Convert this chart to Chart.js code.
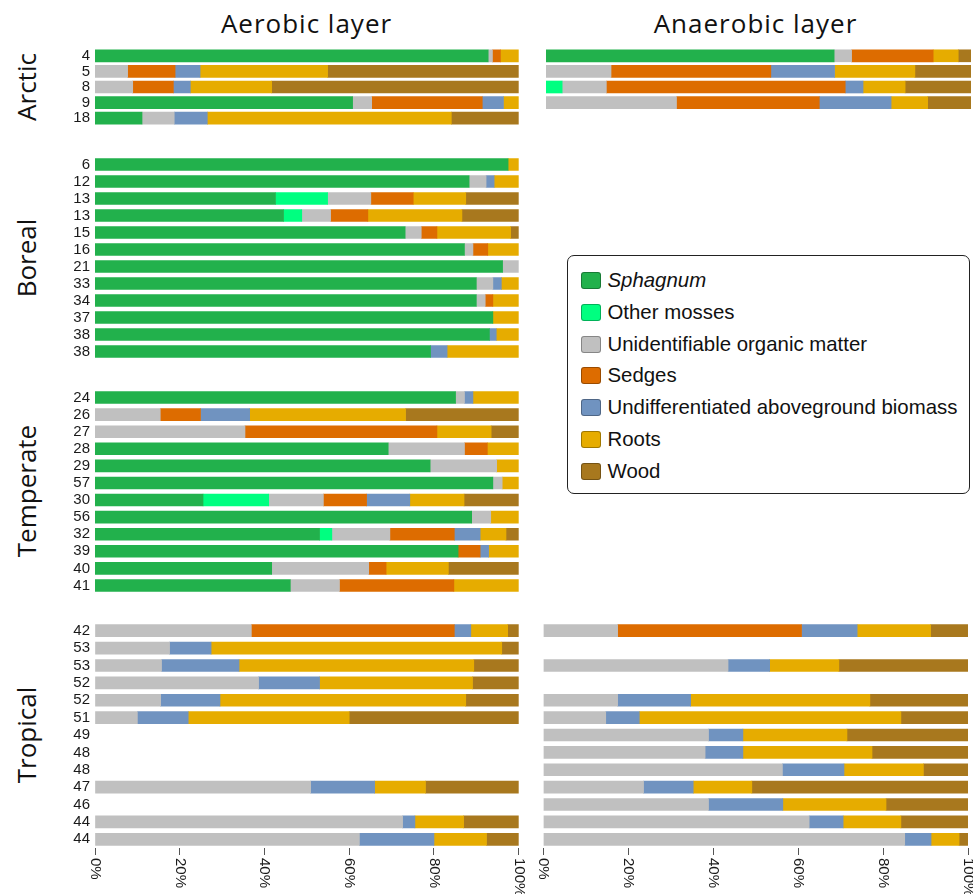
<!DOCTYPE html>
<html>
<head>
<meta charset="utf-8">
<script src="https://cdn.jsdelivr.net/npm/chart.js@4.4.0/dist/chart.umd.min.js"></script>
<style>
  html, body { margin: 0; padding: 0; background: #fff; overflow: hidden; width: 973px; height: 894px; }
  #stage { position: relative; width: 973px; height: 894px; }
  .panel { position: absolute; }
  .title { position: absolute; top: 10px; font-family: 'Open Sans', sans-serif; font-size: 26px; line-height: 26px;
           letter-spacing: 1px; color: #111; white-space: nowrap; transform: translateX(-50%); }
  .group { position: absolute; font-family: 'Open Sans', sans-serif; font-size: 26px; line-height: 26px; color: #111;
           white-space: nowrap; transform: translate(-50%, -50%) rotate(-90deg); }
  #legend { position: absolute; left: 567px; top: 255px; width: 403px; height: 239px; box-sizing: border-box;
            border: 1.5px solid #222; border-radius: 7px; padding-top: 8.3px; background: #fff; }
  .item { display: flex; align-items: center; height: 31.9px; font-family: 'Liberation Sans', Arial, sans-serif;
          font-size: 20.4px; color: #111; white-space: nowrap; }
  .swatch { width: 20px; height: 17px; box-sizing: border-box; border: 1px solid rgba(0,0,0,0.3);
            border-radius: 3px; margin-left: 12.5px; margin-right: 7px; }
</style>
</head>
<body>
<div id="stage">
  <div class="title" style="left:306.5px">Aerobic layer</div>
  <div class="title" style="left:755.5px">Anaerobic layer</div>
  <div class="group" style="left:25.5px; top:87px">Arctic</div>
  <div class="group" style="left:25.5px; top:257.7px">Boreal</div>
  <div class="group" style="left:25.5px; top:491.4px">Temperate</div>
  <div class="group" style="left:25.5px; top:735px">Tropical</div>
  <div id="legend"></div>
</div>
<script>
// components, in stacking order
const components = ['Sphagnum', 'Other mosses', 'Unidentifiable organic matter', 'Sedges',
                    'Undifferentiated aboveground biomass', 'Roots', 'Wood'];
const colours = ['#22b14c', '#00ff80', '#c0c0c0', '#dd6c00', '#7093c0', '#e6ac00', '#a8781e'];
const xTicks = ['0%', '20%', '40%', '60%', '80%', '100%'];

// site labels per climate zone
const arcticSites = ['4', '5', '8', '9', '18'];
const borealSites = ['6', '12', '13', '13', '15', '16', '21', '33', '34', '37', '38', '38'];
const temperateSites = ['24', '26', '27', '28', '29', '57', '30', '56', '32', '39', '40', '41'];
const tropicalSites = ['42', '53', '53', '52', '52', '51', '49', '48', '48', '47', '46', '44', '44'];

// % composition per site: [sphagnum, other mosses, unidentifiable, sedges, undiff. biomass, roots, wood]
const arcticAerobic = [
  [92.8, 0, 1.0, 1.9, 0, 4.3, 0],
  [0, 0, 7.7, 11.2, 5.9, 30.1, 45.1],
  [0, 0, 8.9, 9.6, 4.0, 19.2, 58.3],
  [60.8, 0, 4.5, 26.1, 5.0, 3.6, 0],
  [11.1, 0, 7.6, 0, 7.8, 57.6, 15.9]
];
const arcticAnaerobic = [
  [67.8, 0, 4.1, 19.2, 0, 5.9, 3.0],
  [0, 0, 15.3, 37.6, 15.0, 18.9, 13.2],
  [0, 3.8, 10.4, 56.2, 4.2, 9.9, 15.5],
  [0, 0, 30.7, 33.6, 16.9, 8.6, 10.2],
  null
];
const borealAerobic = [
  [97.5, 0, 0, 0, 0, 2.5, 0],
  [88.3, 0, 4.0, 0, 1.9, 5.8, 0],
  [42.6, 12.3, 10.2, 10.0, 0, 12.4, 12.5],
  [44.5, 4.3, 6.8, 8.8, 0, 22.2, 13.4],
  [73.2, 0, 3.8, 3.7, 0, 17.4, 1.9],
  [87.2, 0, 2.0, 3.5, 0, 7.3, 0],
  [96.2, 0, 3.8, 0, 0, 0, 0],
  [90.0, 0, 3.9, 0, 2.0, 4.1, 0],
  [90.0, 0, 2.1, 1.8, 0, 6.1, 0],
  [93.9, 0, 0, 0, 0, 6.1, 0],
  [93.1, 0, 0, 0, 1.6, 5.3, 0],
  [79.2, 0, 0, 0, 3.9, 16.9, 0]
];
const temperateAerobic = [
  [85.1, 0, 2.1, 0, 2.0, 10.8, 0],
  [0, 0, 15.4, 9.5, 11.6, 36.8, 26.7],
  [0, 0, 35.4, 45.3, 0, 12.8, 6.5],
  [69.2, 0, 18.0, 5.4, 0, 7.4, 0],
  [79.1, 0, 15.7, 0, 0, 5.2, 0],
  [93.9, 0, 2.2, 0, 0, 3.9, 0],
  [25.5, 15.5, 12.9, 10.2, 10.2, 12.8, 12.9],
  [88.9, 0, 4.5, 0, 0, 6.6, 0],
  [53.0, 2.9, 13.7, 15.2, 6.1, 6.1, 3.0],
  [85.7, 0, 0, 5.2, 2.0, 7.1, 0],
  [41.7, 0, 22.9, 4.1, 0, 14.7, 16.6],
  [46.1, 0, 11.6, 27.0, 0, 15.3, 0]
];
const tropicalAerobic = [
  [0, 0, 36.9, 47.9, 3.9, 8.7, 2.6],
  [0, 0, 17.6, 0, 9.8, 68.6, 4.0],
  [0, 0, 15.7, 0, 18.3, 55.4, 10.6],
  [0, 0, 38.6, 0, 14.4, 36.1, 10.9],
  [0, 0, 15.5, 0, 14.0, 58.0, 12.5],
  [0, 0, 10.0, 0, 12.0, 38.0, 40.0],
  null,
  null,
  null,
  [0, 0, 50.9, 0, 15.1, 12.0, 22.0],
  null,
  [0, 0, 72.6, 0, 2.9, 11.5, 13.0],
  [0, 0, 62.4, 0, 17.6, 12.4, 7.6]
];
const tropicalAnaerobic = [
  [0, 0, 17.5, 43.3, 13.1, 17.3, 8.8],
  null,
  [0, 0, 43.5, 0, 9.8, 16.3, 30.4],
  null,
  [0, 0, 17.5, 0, 17.2, 42.2, 23.1],
  [0, 0, 14.7, 0, 7.9, 61.6, 15.8],
  [0, 0, 38.9, 0, 8.1, 24.5, 28.5],
  [0, 0, 38.1, 0, 8.9, 30.4, 22.6],
  [0, 0, 56.3, 0, 14.5, 18.7, 10.5],
  [0, 0, 23.6, 0, 11.7, 13.8, 50.9],
  [0, 0, 38.9, 0, 17.5, 24.3, 19.3],
  [0, 0, 62.6, 0, 8.0, 13.6, 15.8],
  [0, 0, 85.1, 0, 6.2, 6.6, 2.1]
];

// where each small chart sits on the page
const panels = [
  { sites: arcticSites, rows: arcticAerobic, left: 0, top: 48, width: 530, height: 78, padLeft: 0, padRight: 11.3, labels: true, axis: false },
  { sites: borealSites, rows: borealAerobic, left: 0, top: 156, width: 530, height: 204, padLeft: 0, padRight: 11.3, labels: true, axis: false },
  { sites: temperateSites, rows: temperateAerobic, left: 0, top: 389, width: 530, height: 205, padLeft: 0, padRight: 11.3, labels: true, axis: false },
  { sites: tropicalSites, rows: tropicalAerobic, left: 0, top: 622, width: 530, height: 226, padLeft: 0, padRight: 11.3, labels: true, axis: true },
  { sites: arcticSites, rows: arcticAnaerobic, left: 536, top: 48, width: 440, height: 78, padLeft: 10, padRight: 5, labels: false, axis: false },
  { sites: tropicalSites, rows: tropicalAnaerobic, left: 533, top: 622, width: 443, height: 226, padLeft: 10.3, padRight: 8, labels: false, axis: true }
];
const AXIS_H = 50;

// x tick labels read top to bottom, which Chart.js does not do by itself
const percentLabels = {
  id: 'percentLabels',
  afterDraw(chart) {
    const ctx = chart.ctx;
    const x = chart.scales.x;
    ctx.save();
    ctx.font = '15px "Liberation Sans", Arial, sans-serif';
    ctx.fillStyle = '#1a1a1a';
    ctx.textAlign = 'left';
    ctx.textBaseline = 'middle';
    x.ticks.forEach((t, i) => {
      ctx.save();
      ctx.translate(x.getPixelForValue(t.value), chart.chartArea.bottom + 10);
      ctx.rotate(Math.PI / 2);
      ctx.fillText(xTicks[i], 0, 0);
      ctx.restore();
    });
    ctx.restore();
  }
};

const stage = document.getElementById('stage');

function makeChart(p) {
  const box = document.createElement('div');
  box.className = 'panel';
  box.style.left = p.left + 'px';
  box.style.top = p.top + 'px';
  const canvas = document.createElement('canvas');
  const axisH = p.axis ? AXIS_H : 0;
  const yWidth = p.labels ? 95 : 0;
  canvas.width = p.width;
  canvas.height = p.height + axisH;
  box.appendChild(canvas);
  stage.appendChild(box);

  // zero shares are left out so no hairline shows
  const datasets = components.map((name, k) => ({
    label: name,
    data: p.rows.map(r => (r && r[k] > 0) ? r[k] : null),
    backgroundColor: colours[k],
    borderWidth: 0,
    barThickness: 12
  }));

  new Chart(canvas, {
    type: 'bar',
    data: { labels: p.sites, datasets: datasets },
    options: {
      indexAxis: 'y',
      responsive: false,
      animation: false,
      layout: { padding: { left: p.padLeft, right: p.padRight, top: 0, bottom: 0 } },
      plugins: { legend: { display: false }, tooltip: { enabled: false } },
      scales: {
        x: {
          stacked: true, min: 0, max: 100,
          display: p.axis,
          ticks: { display: false, stepSize: 20 },
          grid: { drawOnChartArea: false, drawTicks: true, tickLength: 7, color: '#555', lineWidth: 1 },
          border: { display: false },
          afterFit: s => { s.height = axisH; s.paddingLeft = 0; s.paddingRight = 0; }
        },
        y: {
          stacked: true,
          display: p.labels,
          grid: { display: false, drawTicks: false },
          border: { display: false },
          ticks: { autoSkip: false, color: '#1a1a1a', padding: 5,
                   font: { family: '"Liberation Sans", Arial, sans-serif', size: 15 } },
          afterFit: s => { s.width = yWidth; s.paddingTop = 0; s.paddingBottom = 0; }
        }
      }
    },
    plugins: p.axis ? [percentLabels] : []
  });
}

panels.forEach(makeChart);

// legend
const legend = document.getElementById('legend');
components.forEach((name, k) => {
  const item = document.createElement('div');
  item.className = 'item';
  const sw = document.createElement('span');
  sw.className = 'swatch';
  sw.style.background = colours[k];
  const txt = document.createElement('span');
  txt.textContent = name;
  if (name === 'Sphagnum') txt.style.fontStyle = 'italic';
  item.appendChild(sw);
  item.appendChild(txt);
  legend.appendChild(item);
});
</script>
</body>
</html>
